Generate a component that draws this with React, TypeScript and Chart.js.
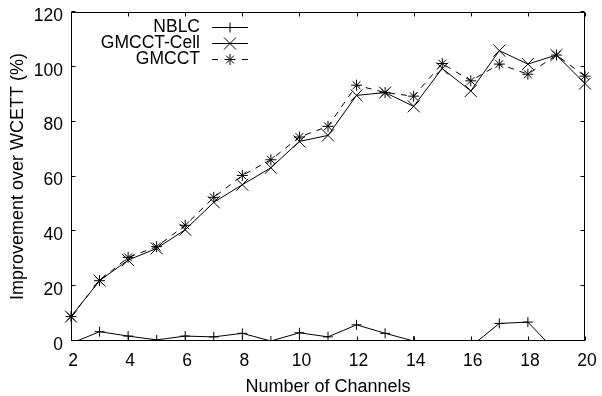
import React, { useEffect, useRef } from 'react';
import { Chart, registerables } from 'chart.js';

Chart.register(...registerables);

const channels = [2, 3, 4, 5, 6, 7, 8, 9, 10, 11, 12, 13, 14, 15, 16, 17, 18, 19, 20];
const nblc = [-0.9, 3.4, 1.8, 0.4, 1.8, 1.5, 2.8, 0, 3.0, 1.5, 5.9, 2.8, 0, -1, -2, 6.4, 6.9, -4, -3];
const gmcctCell = [8.9, 22.0, 29.5, 33.8, 40.6, 50.6, 57.0, 63.2, 72.8, 75.0, 89.6, 90.6, 85.6, 99.4, 91.2, 105.9, 101.0, 104.3, 93.9];
const gmcct = [8.9, 22.0, 30.5, 34.4, 42.2, 52.4, 60.4, 66.1, 74.4, 78.3, 93.3, 90.6, 89.3, 101.2, 94.9, 101.0, 97.3, 104.3, 96.6];
const xTickValues = [2, 4, 6, 8, 10, 12, 14, 16, 18, 20];
const yTickValues = [0, 20, 40, 60, 80, 100, 120];
const seriesNames = ['NBLC', 'GMCCT-Cell', 'GMCCT'];
const xTitle = 'Number of Channels';
const yTitle = 'Improvement over WCETT (%)';

const FONT = '"Liberation Sans", Arial, sans-serif';

function drawMarker(ctx: CanvasRenderingContext2D, style: string, x: number, y: number, r: number) {
  ctx.beginPath();
  if (style === 'cross' || style === 'star') {
    ctx.moveTo(x, y - r); ctx.lineTo(x, y + r);
    ctx.moveTo(x - r, y); ctx.lineTo(x + r, y);
  }
  if (style === 'crossRot' || style === 'star') {
    const d = r * Math.SQRT1_2;
    ctx.moveTo(x - d, y - d); ctx.lineTo(x + d, y + d);
    ctx.moveTo(x + d, y - d); ctx.lineTo(x - d, y + d);
  }
  ctx.stroke();
}

const framePlugin = {
  id: 'gpFrame',
  afterDraw(chart: any) {
    const { ctx, chartArea, scales } = chart;
    const { left, right, top, bottom } = chartArea;
    const L = Math.round(left) + 0.5, R = Math.round(right) - 0.5;
    const T = Math.round(top) + 0.5, B = Math.round(bottom) - 0.5;
    ctx.save();
    ctx.strokeStyle = '#000';
    ctx.lineWidth = 1;
    ctx.setLineDash([]);
    ctx.strokeRect(L, T, R - L, B - T);
    ctx.beginPath();
    xTickValues.forEach((v) => {
      const px = Math.round(scales.x.getPixelForValue(v)) + 0.5;
      ctx.moveTo(px, B); ctx.lineTo(px, B - 4);
      ctx.moveTo(px, T); ctx.lineTo(px, T + 4);
    });
    yTickValues.forEach((v) => {
      const py = Math.round(scales.y.getPixelForValue(v)) - 0.5;
      ctx.moveTo(L, py); ctx.lineTo(L + 4, py);
      ctx.moveTo(R, py); ctx.lineTo(R - 4, py);
    });
    ctx.stroke();

    // key (gnuplot style: text right-aligned, then sample)
    const textX = left + 129;
    const x0 = left + 141, x1 = left + 177, xm = left + 159;
    chart.data.datasets.forEach((ds: any, i: number) => {
      const y = Math.round(top) + 15.5 + i * 16;
      ctx.font = `17.5px ${FONT}`;
      ctx.fillStyle = '#000';
      ctx.textAlign = 'right';
      ctx.textBaseline = 'middle';
      ctx.fillText(ds.label, textX, y);
      ctx.setLineDash(ds.borderDash && ds.borderDash.length ? [6, 9] : []);
      ctx.beginPath();
      ctx.moveTo(x0, y); ctx.lineTo(x1, y);
      ctx.stroke();
      ctx.setLineDash([]);
      drawMarker(ctx, ds.pointStyle, xm, y, ds.legendRadius);
    });
    ctx.restore();
  },
};

const toPts = (vals: number[]) => channels.map((c, i) => ({ x: c, y: vals[i] }));

export default function App() {
  const ref = useRef<HTMLCanvasElement | null>(null);

  useEffect(() => {
    if (!ref.current) return;
    Chart.defaults.font.family = FONT;
    const common = {
      borderColor: '#000',
      borderWidth: 1,
      pointBorderColor: '#000',
      pointBackgroundColor: 'rgba(0,0,0,0)',
      pointBorderWidth: 1,
      tension: 0,
      fill: false,
      clip: { left: false, top: false, right: false, bottom: 0 },
    };
    const chart = new Chart(ref.current, {
      type: 'line',
      data: {
        datasets: [
          {
            ...common,
            label: seriesNames[0],
            data: toPts(nblc),
            pointStyle: 'cross',
            pointRadius: (c: any) => (c.raw && c.raw.y < 0 ? 0 : 5),
            legendRadius: 5,
          } as any,
          {
            ...common,
            label: seriesNames[1],
            data: toPts(gmcctCell),
            pointStyle: 'crossRot',
            pointRadius: 8.5,
            legendRadius: 8.5,
          } as any,
          {
            ...common,
            label: seriesNames[2],
            data: toPts(gmcct),
            pointStyle: 'star',
            pointRadius: 5.5,
            borderDash: [6, 6],
            legendRadius: 5.5,
          } as any,
        ],
      },
      options: {
        responsive: false,
        devicePixelRatio: 1,
        animation: false,
        events: [],
        layout: { padding: { left: 0, top: 12, right: 17, bottom: 0 } },
        plugins: { legend: { display: false }, tooltip: { enabled: false } },
        scales: {
          x: {
            type: 'linear',
            min: 2,
            max: 20,
            afterBuildTicks: (s: any) => { s.ticks = xTickValues.map((v) => ({ value: v })); },
            afterFit: (s: any) => {
              s.height = 55;
              s.paddingLeft = 0; s.paddingRight = 0; s.paddingTop = 0; s.paddingBottom = 0;
            },
            grid: { display: false, drawTicks: false },
            border: { display: false },
            ticks: { color: '#000', font: { size: 17.5, family: FONT }, padding: 10, labelOffset: 2, maxRotation: 0, autoSkip: false },
            title: { display: true, text: xTitle, color: '#000', font: { size: 18, family: FONT, lineHeight: 1 }, padding: { top: 0, bottom: 0 } },
          },
          y: {
            type: 'linear',
            min: 0,
            max: 120,
            afterBuildTicks: (s: any) => { s.ticks = yTickValues.map((v) => ({ value: v })); },
            afterFit: (s: any) => {
              s.width = 71;
              s.paddingLeft = 0; s.paddingRight = 0; s.paddingTop = 0; s.paddingBottom = 0;
            },
            grid: { display: false, drawTicks: false },
            border: { display: false },
            ticks: { color: '#000', font: { size: 17.5, family: FONT }, padding: 8, labelOffset: 4, autoSkip: false },
            title: { display: true, text: yTitle, color: '#000', font: { size: 18, family: FONT, lineHeight: 1 }, padding: { top: 9, bottom: 0 } },
          },
        },
      },
      plugins: [framePlugin],
    } as any);
    return () => chart.destroy();
  }, []);

  return (
    <div style={{ position: 'fixed', left: 0, top: 0, width: 602, height: 396, background: '#fff' }}>
      <canvas ref={ref} width={602} height={396} style={{ display: 'block' }} />
    </div>
  );
}
